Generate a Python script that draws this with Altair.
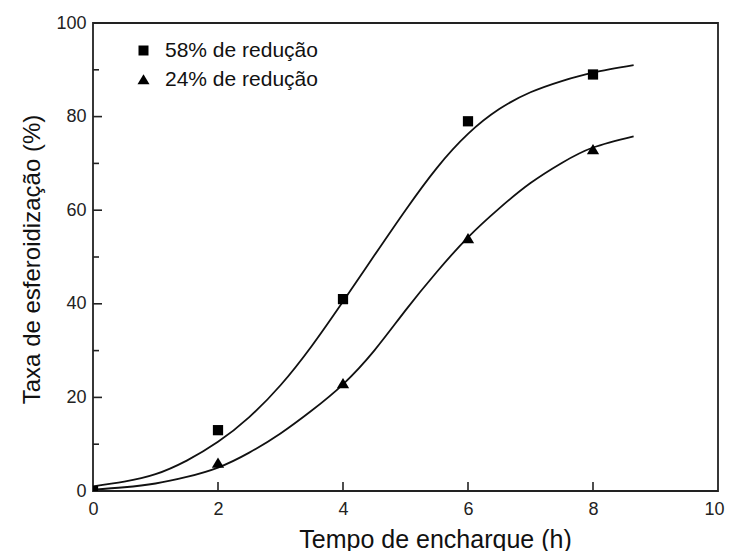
import altair as alt
import pandas as pd

# measured points
series_names = ["58% de redução", "24% de redução"]
x_pts_58 = [0, 2, 4, 6, 8]
y_pts_58 = [0, 13, 41, 79, 89]
x_pts_24 = [2, 4, 6, 8]
y_pts_24 = [6, 23, 54, 73]

# fitted curves
x_fit = [0, 0.5, 1, 1.5, 2, 2.5, 3, 3.5, 4, 4.5, 5, 5.5, 6, 6.5, 7, 7.5, 8, 8.65]
y_fit_58 = [1.0, 2.0, 3.6, 6.5, 10.5, 15.8, 22.6, 31.0, 40.5, 50.3, 60.0, 69.0, 76.3, 81.6, 85.2, 87.6, 89.4, 91.0]
y_fit_24 = [0.3, 0.8, 1.6, 3.0, 5.0, 8.2, 12.3, 17.2, 22.8, 30.0, 38.6, 46.8, 54.2, 60.4, 65.8, 70.1, 73.4, 75.8]

x_ticks = [0, 2, 4, 6, 8, 10]
y_ticks_major = [0, 20, 40, 60, 80, 100]
y_ticks_minor = [10, 30, 50, 70, 90]

pts = pd.DataFrame(
    [{"x": a, "y": b, "s": series_names[0]} for a, b in zip(x_pts_58, y_pts_58)]
    + [{"x": a, "y": b, "s": series_names[1]} for a, b in zip(x_pts_24, y_pts_24)]
)
fit = pd.DataFrame(
    [{"x": a, "y": b, "s": series_names[0]} for a, b in zip(x_fit, y_fit_58)]
    + [{"x": a, "y": b, "s": series_names[1]} for a, b in zip(x_fit, y_fit_24)]
)

W, H = 625, 468
xs = alt.Scale(domain=[0, 10], nice=False)
ys = alt.Scale(domain=[0, 100], nice=False)

x_axis = alt.Axis(
    values=x_ticks, format="d", ticks=False, domain=False, grid=False, labelFontSize=18,
    labelColor="#222", labelPadding=9, labelFont="Liberation Sans", labelFlush=False,
    labelOffset=alt.ExprRef("datum.value === 10 ? -4 : 0"),
    title="Tempo de encharque (h)", titleFontSize=25, titleFontWeight="normal",
    titleFont="Liberation Sans", titleColor="#111", titleX=342, titleY=56,
    titleBaseline="alphabetic", titleAlign="center",
)
y_axis = alt.Axis(
    values=y_ticks_major, format="d", ticks=False, domain=False, grid=False, labelFontSize=18,
    labelColor="#222", labelPadding=7, labelFont="Liberation Sans", labelFlush=False,
    title="Taxa de esferoidização (%)", titleFontSize=24, titleFontWeight="normal",
    titleFont="Liberation Sans", titleColor="#111", titleX=-54, titleY=236,
    titleBaseline="alphabetic", titleAlign="center", titleAngle=270,
)

lines = alt.Chart(fit).mark_line(color="#111", strokeWidth=1.8, interpolate="natural").encode(
    x=alt.X("x:Q", scale=xs, axis=x_axis),
    y=alt.Y("y:Q", scale=ys, axis=y_axis),
    detail="s:N",
)

tri = "M0,-1.05L1.2,0.95L-1.2,0.95Z"

points = alt.Chart(pts).mark_point(filled=True, color="#000", opacity=1, size=105, clip=True).encode(
    x=alt.X("x:Q", scale=xs),
    y=alt.Y("y:Q", scale=ys),
    shape=alt.Shape(
        "s:N",
        scale=alt.Scale(domain=series_names, range=["square", tri]),
        legend=alt.Legend(
            title=None, orient="none", legendX=40, legendY=17, labelFontSize=21,
            labelFont="Liberation Sans", labelColor="#111", symbolFillColor="#000",
            symbolStrokeColor="#000", symbolSize=100, labelOffset=11, rowPadding=7,
            padding=0, symbolOpacity=1,
        ),
    ),
)

ytick_major = alt.Chart(pd.DataFrame({"v": y_ticks_major})).mark_rule(color="#222", strokeWidth=1.6).encode(
    y=alt.Y("v:Q", scale=ys), x=alt.value(0), x2=alt.value(9)
)
ytick_minor = alt.Chart(pd.DataFrame({"v": y_ticks_minor})).mark_rule(color="#222", strokeWidth=1.6).encode(
    y=alt.Y("v:Q", scale=ys), x=alt.value(0), x2=alt.value(6)
)
xtick = alt.Chart(pd.DataFrame({"v": x_ticks[1:-1]})).mark_rule(color="#222", strokeWidth=1.6).encode(
    x=alt.X("v:Q", scale=xs), y=alt.value(H), y2=alt.value(H - 9)
)

chart = alt.layer(lines, ytick_major, ytick_minor, xtick, points).properties(
    width=W, height=H,
    autosize=alt.AutoSizeParams(type="none"),
    padding={"left": 85, "top": 15, "right": 7, "bottom": 60},
    background="white",
).configure_view(stroke="#222", strokeWidth=1.8)

chart.save("out.html", embed_options={"renderer": "svg", "actions": False})
